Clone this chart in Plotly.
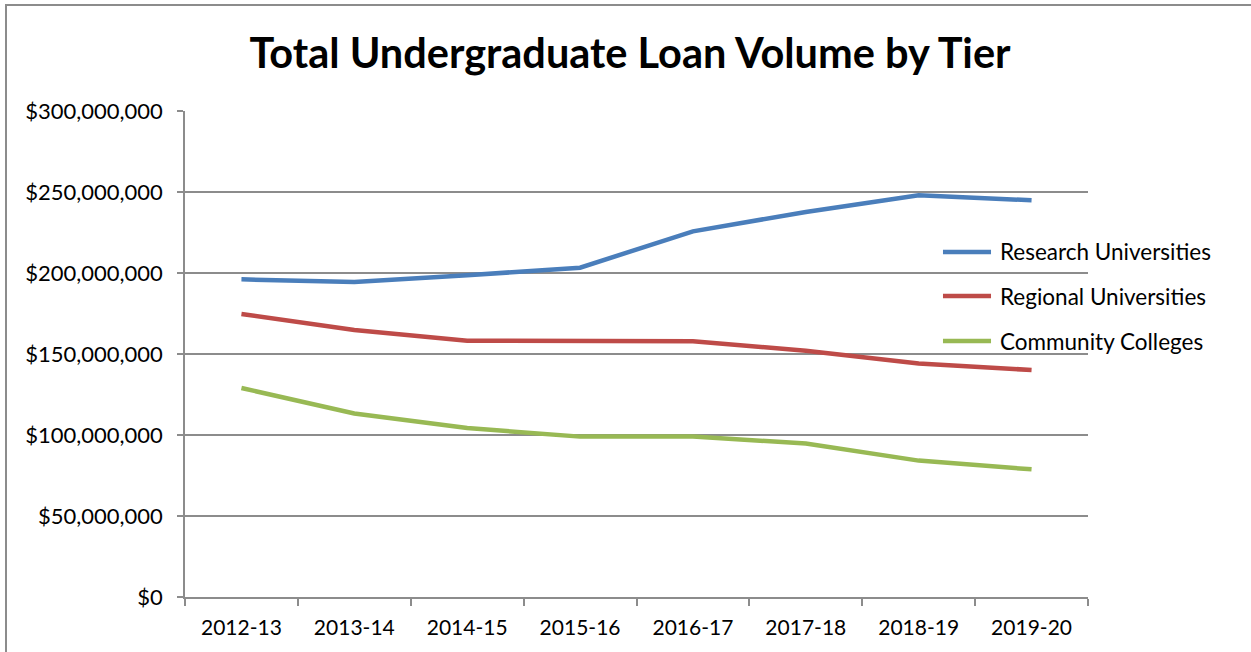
import plotly.graph_objects as go

# Academic years on the category axis
years = ["2012-13", "2013-14", "2014-15", "2015-16",
         "2016-17", "2017-18", "2018-19", "2019-20"]

# Total undergraduate loan volume (US dollars) per tier
research = [196_100_000, 194_400_000, 198_600_000, 203_300_000,
            225_700_000, 237_700_000, 248_000_000, 244_900_000]
regional = [174_700_000, 164_800_000, 158_200_000, 157_800_000,
            157_800_000, 152_000_000, 144_200_000, 140_100_000]
community = [129_000_000, 113_300_000, 104_300_000, 99_000_000,
             99_000_000, 94_800_000, 84_200_000, 78_800_000]

series_names = ["Research Universities", "Regional Universities", "Community Colleges"]
series_values = [research, regional, community]
series_colors = ["#4a7ebb", "#be4b48", "#98b954"]

y_ticks = [0, 50_000_000, 100_000_000, 150_000_000, 200_000_000, 250_000_000, 300_000_000]
y_tick_labels = ["$0", "$50,000,000", "$100,000,000", "$150,000,000",
                 "$200,000,000", "$250,000,000", "$300,000,000"]

FONT = "Lato, Carlito, 'Open Sans', sans-serif"
GRID = "#8c8c8c"

fig = go.Figure()
for name, vals, col in zip(series_names, series_values, series_colors):
    fig.add_trace(go.Scatter(
        x=years, y=vals, name=name, mode="lines",
        line=dict(color=col, width=4.5),
        showlegend=False,
    ))

# Legend drawn as line swatches with labels, placed over the right side
legend_y = [0.7099, 0.6193, 0.5267]
for name, col, ly in zip(series_names, series_colors, legend_y):
    fig.add_shape(type="line", xref="paper", yref="paper",
                  x0=0.8394, x1=0.8926, y0=ly, y1=ly,
                  line=dict(color=col, width=4.5))
    fig.add_annotation(xref="paper", yref="paper", x=0.9003, y=ly,
                       xanchor="left", yanchor="middle", showarrow=False,
                       text=name, font=dict(family=FONT, size=22.5, color="#000000"))

# Outer chart border
fig.add_shape(type="rect", xref="paper", yref="paper",
              x0=(6 - 185) / 903, x1=(1262 - 185) / 903,
              y0=(597 - 662) / 486, y1=(597 - 5) / 486,
              line=dict(color=GRID, width=2), layer="below")

fig.update_layout(
    width=1251, height=652,
    margin=dict(l=185, r=163, t=111, b=55),
    paper_bgcolor="white", plot_bgcolor="white",
    title=dict(text="<b>Total Undergraduate Loan Volume by Tier</b>",
               x=(630 - 0) / 1251, xanchor="center",
               y=1 - 53 / 652, yanchor="middle",
               font=dict(family=FONT, size=41.5, color="#000000")),
    font=dict(family=FONT, size=21, color="#000000"),
)

fig.update_xaxes(
    type="category", showgrid=False,
    showline=True, linecolor=GRID, linewidth=1.5,
    ticks="outside", ticklen=7, tickcolor=GRID, tickwidth=1.5,
    tickson="boundaries", tickfont=dict(family=FONT, size=21),
    ticklabelstandoff=11,
    range=[-0.5, 7.5],
)
fig.update_yaxes(
    range=[0, 300_000_000], tickvals=y_ticks, ticktext=y_tick_labels,
    showgrid=True, gridcolor=GRID, gridwidth=1.5,
    showline=True, linecolor=GRID, linewidth=1.5,
    ticks="outside", ticklen=6, tickcolor=GRID, tickwidth=1.5,
    tickfont=dict(family=FONT, size=22), zeroline=False,
    ticklabelstandoff=10,
)

fig.write_html("out.html")
